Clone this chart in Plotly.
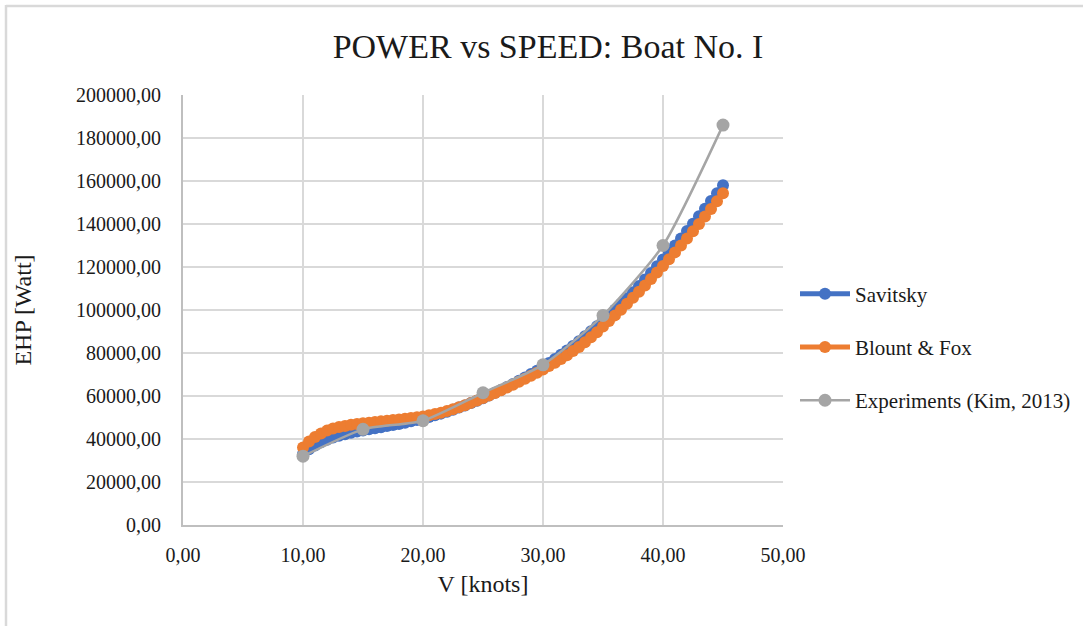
import plotly.graph_objects as go

# Speeds (knots) for the two calculation methods, 0.5-knot steps from 10 to 45
speed = [10.0 + 0.5 * i for i in range(71)]

savitsky = [
    33000, 35200, 37000, 38500, 39700, 40700, 41500, 42250, 42900, 43500,
    44000, 44500, 45000, 45500, 46000, 46500, 47000, 47600, 48200, 48850,
    49500, 50200, 51000, 51800, 52700, 53600, 54600, 55600, 56700, 57800,
    59000, 60200, 61500, 62800, 64200, 65600, 67100, 68600, 70200, 71800,
    73500, 75300, 77200, 79150, 81200, 83300, 85500, 87750, 90100, 92500,
    95000, 97500, 100100, 102750, 105500, 108300, 111200, 114150, 117200, 120300,
    123500, 126700, 130000, 133300, 136700, 140100, 143600, 147100, 150700, 154300,
    158000,
]

blount_fox = [
    36000, 38800, 40900, 42600, 43900, 44900, 45600, 46100, 46600, 47000,
    47300, 47600, 47900, 48200, 48500, 48800, 49100, 49450, 49800, 50150,
    50500, 51000, 51600, 52250, 53000, 53850, 54800, 55750, 56800, 57900,
    59100, 60200, 61400, 62650, 63900, 65250, 66600, 68000, 69400, 70850,
    72300, 73900, 75500, 77200, 79000, 80900, 82800, 85000, 87300, 89700,
    92300, 94850, 97500, 100150, 102900, 105650, 108500, 111400, 114400, 117400,
    120500, 123600, 126800, 130000, 133300, 136600, 140000, 143500, 147000, 150600,
    154300,
]

# Towing-tank measurements
exp_speed = [10, 15, 20, 25, 30, 35, 40, 45]
exp_power = [32000, 44500, 48500, 61500, 74500, 97500, 130000, 186000]

x_ticks = [0, 10, 20, 30, 40, 50]
y_ticks = [0, 20000, 40000, 60000, 80000, 100000, 120000, 140000, 160000, 180000, 200000]

BLUE = "#4472C4"
ORANGE = "#ED7D31"
GRAY = "#A5A5A5"
SERIF = "Liberation Serif, Times New Roman, serif"
TXT = "#1a1a1a"

fig = go.Figure()

fig.add_trace(go.Scatter(
    x=speed, y=savitsky, name="Savitsky", mode="lines+markers",
    line=dict(color=BLUE, width=5, shape="spline"),
    marker=dict(color=BLUE, size=12),
    legendgroup="a",
))
fig.add_trace(go.Scatter(
    x=speed, y=blount_fox, name="Blount & Fox", mode="lines+markers",
    line=dict(color=ORANGE, width=5, shape="spline"),
    marker=dict(color=ORANGE, size=12),
    legendgroup="b",
))
fig.add_trace(go.Scatter(
    x=exp_speed, y=exp_power, name="Experiments (Kim, 2013)", mode="lines+markers",
    line=dict(color=GRAY, width=2.5, shape="spline", smoothing=0.6),
    marker=dict(color=GRAY, size=13),
    legendgroup="c",
))

# plot area: left 183, right 783, top 95, bottom 525 (px)
L, R, T, B = 183, 783, 95, 525
W, H = 1083, 626


def px_x(p):
    return (p - L) / (R - L)


def px_y(p):
    return (B - p) / (B - T)


frame_col = "#D9D9D9"
shapes = [
    dict(type="line", xref="paper", yref="paper",
         x0=px_x(6), x1=px_x(W + 5), y0=px_y(6), y1=px_y(6),
         line=dict(color=frame_col, width=2.5)),
    dict(type="line", xref="paper", yref="paper",
         x0=px_x(6), x1=px_x(6), y0=px_y(5), y1=px_y(H + 5),
         line=dict(color=frame_col, width=2.5)),
]

fig.update_layout(
    width=W, height=H,
    margin=dict(l=L, r=W - R, t=T, b=H - B, pad=0, autoexpand=False),
    paper_bgcolor="white", plot_bgcolor="white",
    separators=",.",
    font=dict(family=SERIF, color=TXT, size=20),
    title=dict(text="POWER vs SPEED: Boat No. I", x=0.506, xanchor="center",
               y=1 - 46 / H, yanchor="middle", xref="container", yref="container",
               font=dict(family=SERIF, size=34, color=TXT)),
    legend=dict(x=px_x(795), xanchor="left", y=px_y(347), yanchor="middle",
                font=dict(family=SERIF, size=21, color=TXT),
                tracegroupgap=23, itemwidth=50, bgcolor="rgba(0,0,0,0)"),
    shapes=shapes,
    showlegend=True,
)

fig.update_xaxes(
    range=[0, 50], tickvals=x_ticks, tickformat=".2f",
    showgrid=True, gridcolor=frame_col, gridwidth=1.5,
    showline=True, linecolor="#BFBFBF", linewidth=2, mirror=False,
    zeroline=False, ticks="", ticklabelstandoff=11,
    tickfont=dict(family=SERIF, size=20, color=TXT),
    title=dict(text="V [knots]", font=dict(family=SERIF, size=24, color=TXT), standoff=10),
)
fig.update_yaxes(
    range=[0, 200000], tickvals=y_ticks, tickformat=".2f",
    showgrid=True, gridcolor=frame_col, gridwidth=1.5,
    showline=True, linecolor="#BFBFBF", linewidth=2,
    zeroline=False, ticks="", ticklabelstandoff=16,
    tickfont=dict(family=SERIF, size=20, color=TXT),
    title=dict(text="EHP [Watt]", font=dict(family=SERIF, size=24, color=TXT), standoff=38),
)

fig.write_html("out.html")
